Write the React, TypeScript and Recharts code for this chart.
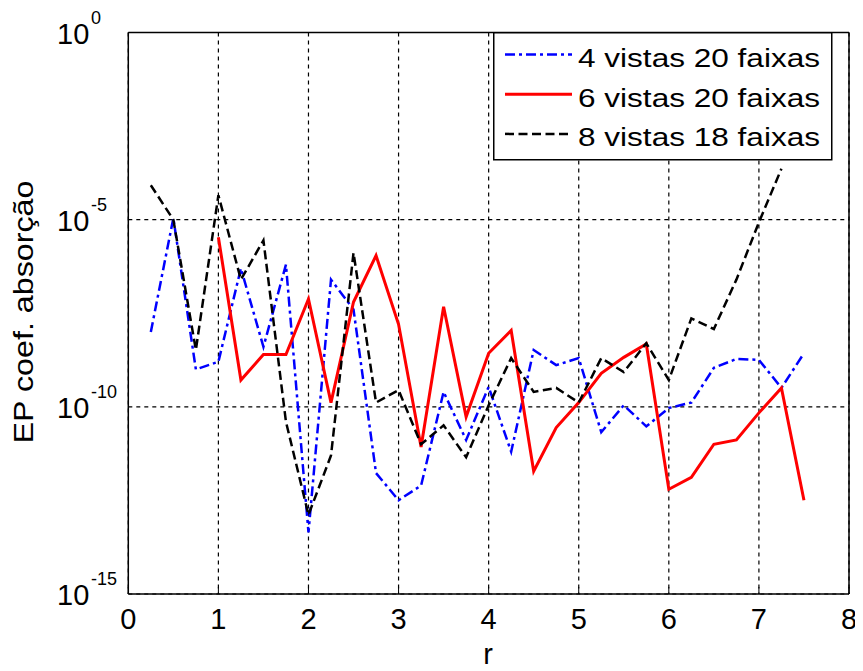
import React from 'react';
import { LineChart, Line, XAxis, YAxis, CartesianGrid, Legend, ReferenceLine, Label } from 'recharts';

const rValues = [0.25, 0.5, 0.75, 1, 1.25, 1.5, 1.75, 2, 2.25, 2.5, 2.75, 3, 3.25, 3.5, 3.75, 4, 4.25, 4.5, 4.75, 5, 5.25, 5.5, 5.75, 6, 6.25, 6.5, 6.75, 7, 7.25, 7.5];

// 4 vistas 20 faixas
const vistas4 = [1.0e-8, 1.1e-5, 1.0e-9, 1.6e-9, 5.0e-7, 4.0e-9, 6.3e-7, 4.4e-14, 2.5e-7, 4.0e-8, 1.7e-12, 3.2e-13, 7.9e-13, 2.5e-10, 1.3e-11, 3.4e-10, 6.3e-12, 3.3e-9, 1.3e-9, 2.0e-9, 2.1e-11, 1.1e-10, 3.0e-11, 9.3e-11, 1.3e-10, 1.1e-9, 1.9e-9, 1.8e-9, 3.2e-10, 2.7e-9];
// 6 vistas 20 faixas
const vistas6 = [null, null, null, 3.4e-6, 5.2e-10, 2.5e-9, 2.5e-9, 7.6e-8, 1.3e-10, 6.3e-8, 1.1e-6, 1.6e-8, 8.5e-12, 4.7e-8, 5.4e-11, 2.7e-9, 1.1e-8, 1.9e-12, 2.8e-11, 1.3e-10, 7.9e-10, 2.1e-9, 4.8e-9, 6.3e-13, 1.3e-12, 1.0e-11, 1.3e-11, 6.9e-11, 3.2e-10, 3.2e-13];
// 8 vistas 18 faixas
const vistas8 = [8.3e-5, 1.0e-5, 3.3e-9, 4.5e-5, 2.5e-7, 2.8e-6, 4.0e-11, 1.3e-13, 5.0e-12, 1.3e-6, 1.3e-10, 2.8e-10, 1.0e-11, 3.2e-11, 4.5e-12, 1.1e-10, 2.0e-9, 2.5e-10, 3.2e-10, 1.3e-10, 2.0e-9, 8.5e-10, 5.0e-9, 5.2e-10, 2.3e-8, 1.2e-8, 2.5e-7, 8.5e-6, 2.3e-4, null];

const xTicks = [0, 1, 2, 3, 4, 5, 6, 7, 8];
const yTicks = [1e-15, 1e-10, 1e-5, 1];

const seriesNames = ['4 vistas 20 faixas', '6 vistas 20 faixas', '8 vistas 18 faixas'];

const data = rValues.map((r, i) => ({ r, a: vistas4[i], b: vistas6[i], c: vistas8[i] }));

const FONT = '"Liberation Sans", Arial, sans-serif';

const YTick = (props: any) => {
    const { y, payload } = props;
    const exp = Math.round(Math.log10(payload.value));
    return (
        <g>
            <text x={49} y={y + 11} fontSize={29} fontFamily={FONT} fill="#000">10</text>
            <text x={83} y={y - 9} fontSize={18} fontFamily={FONT} fill="#000">{exp}</text>
        </g>
    );
};

const XTick = (props: any) => {
    const { x, y, payload } = props;
    return (
        <g>
            <line x1={x} y1={586} x2={x} y2={579} stroke="#000" strokeWidth={1} />
            <text x={x} y={y + 27} textAnchor="middle" fontSize={29} fontFamily={FONT} fill="#000">
                {payload.value}
            </text>
        </g>
    );
};

const legendStyles = [
    { stroke: '#0000FF', dash: '10 4 3 4', width: 2.5 },
    { stroke: '#FF0000', dash: undefined, width: 3 },
    { stroke: '#000000', dash: '9 4.5', width: 2.5 },
];

const LegendBox = () => (
    <svg width={340} height={129}>
        <rect x={0.75} y={0.75} width={338} height={127} fill="#fff" stroke="#000" strokeWidth={1.5} />
        {seriesNames.map((name, i) => {
            const cy = 25.5 + i * 39.7;
            const s = legendStyles[i];
            return (
                <g key={name}>
                    <line x1={12} y1={cy - 3} x2={79} y2={cy - 3} stroke={s.stroke} strokeWidth={s.width} strokeDasharray={s.dash} />
                    <text x={85} y={cy + 9.3} fontSize={26} fontFamily={FONT} fill="#000" textLength={242} lengthAdjust="spacingAndGlyphs">
                        {name}
                    </text>
                </g>
            );
        })}
    </svg>
);

export default function App() {
    return (
        <LineChart width={855} height={663} data={data} margin={{ top: 24.5, right: 14, left: 0, bottom: 0 }}>
            <CartesianGrid stroke="#000" strokeDasharray="4 4" strokeWidth={1.2} />
            <XAxis
                dataKey="r"
                type="number"
                domain={[0, 8]}
                ticks={xTicks}
                height={77}
                axisLine={{ stroke: '#000', strokeWidth: 1.5 }}
                tickLine={false}
                tick={<XTick />}
            >
                <Label
                    content={() => (
                        <text x={480} y={656} textAnchor="middle" fontSize={29} fontFamily={FONT} fill="#000">r</text>
                    )}
                />
            </XAxis>
            <YAxis
                type="number"
                scale="log"
                domain={[1e-15, 1]}
                allowDataOverflow
                ticks={yTicks}
                width={120.3}
                axisLine={{ stroke: '#000', strokeWidth: 1.5 }}
                tickLine={false}
                tick={<YTick />}
            >
                <Label
                    content={() => (
                        <text
                            x={15}
                            y={304}
                            transform="rotate(-90, 15, 304)"
                            textAnchor="middle"
                            dominantBaseline="central"
                            fontSize={28}
                            fontFamily={FONT}
                            fill="#000"
                            textLength={263}
                            lengthAdjust="spacingAndGlyphs"
                        >
                            EP coef. absorção
                        </text>
                    )}
                />
            </YAxis>
            <ReferenceLine y={1} stroke="#000" strokeWidth={1.5} />
            <ReferenceLine x={8} stroke="#000" strokeWidth={1.5} />
            <Line dataKey="a" name={seriesNames[0]} stroke="#0000FF" strokeWidth={2.5} strokeDasharray="10 4 3 4" dot={false} isAnimationActive={false} />
            <Line dataKey="b" name={seriesNames[1]} stroke="#FF0000" strokeWidth={3} dot={false} isAnimationActive={false} />
            <Line dataKey="c" name={seriesNames[2]} stroke="#000000" strokeWidth={2.5} strokeDasharray="9 4.5" dot={false} isAnimationActive={false} />
            <Legend
                layout="vertical"
                align="center"
                verticalAlign="middle"
                content={<LegendBox />}
                wrapperStyle={{ position: 'absolute', left: 485, top: 24, width: 340, height: 129 }}
            />
        </LineChart>
    );
}
